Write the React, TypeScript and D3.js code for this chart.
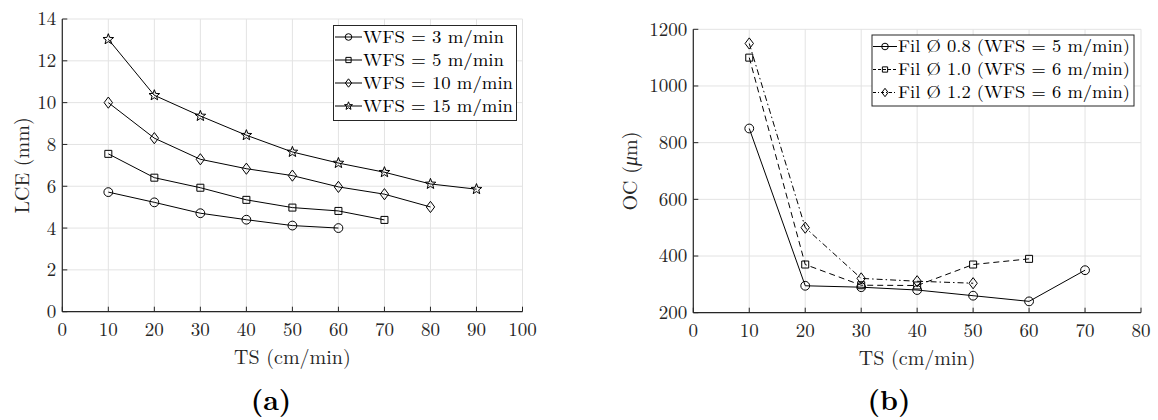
import React from 'react';
import * as d3 from 'd3';

// ---- Panel (a) data ----
const tsA3 = [10, 20, 30, 40, 50, 60];
const lceA3 = [5.72, 5.23, 4.71, 4.4, 4.12, 4.0];
const tsA5 = [10, 20, 30, 40, 50, 60, 70];
const lceA5 = [7.55, 6.41, 5.93, 5.35, 4.98, 4.82, 4.39];
const tsA10 = [10, 20, 30, 40, 50, 60, 70, 80];
const lceA10 = [10.0, 8.3, 7.29, 6.84, 6.51, 5.97, 5.62, 5.01];
const tsA15 = [10, 20, 30, 40, 50, 60, 70, 80, 90];
const lceA15 = [13.03, 10.35, 9.36, 8.44, 7.64, 7.11, 6.67, 6.11, 5.86];
const legendA = ['WFS = 3 m/min', 'WFS = 5 m/min', 'WFS = 10 m/min', 'WFS = 15 m/min'];
const xTicksA = [0, 10, 20, 30, 40, 50, 60, 70, 80, 90, 100];
const yTicksA = [0, 2, 4, 6, 8, 10, 12, 14];

// ---- Panel (b) data ----
const tsB08 = [10, 20, 30, 40, 50, 60, 70];
const ocB08 = [850, 295, 290, 280, 260, 240, 350];
const tsB10 = [10, 20, 30, 40, 50, 60];
const ocB10 = [1100, 370, 297, 296, 370, 390];
const tsB12 = [10, 20, 30, 40, 50];
const ocB12 = [1150, 500, 321, 311, 304];
const legendB = ['Fil Ø 0.8 (WFS = 5 m/min)', 'Fil Ø 1.0 (WFS = 6 m/min)', 'Fil Ø 1.2 (WFS = 6 m/min)'];
const xTicksB = [0, 10, 20, 30, 40, 50, 60, 70, 80];
const yTicksB = [200, 400, 600, 800, 1000, 1200];

const FONT = "'Latin Modern Roman', 'CMU Serif', 'Liberation Serif', serif";
const AX = '#262626';
const GRID = '#e3e3e3';

type Mk = 'circle' | 'square' | 'diamond' | 'star';

function markerPath(t: Mk, s: number): string {
  if (t === 'circle') {
    const r = 4.4 * s;
    return `M${r},0A${r},${r} 0 1,1 ${-r},0A${r},${r} 0 1,1 ${r},0Z`;
  }
  if (t === 'square') {
    const h = 3.5 * s;
    return `M${-h},${-h}H${h}V${h}H${-h}Z`;
  }
  if (t === 'diamond') {
    const w = 4.2 * s, h = 5.6 * s;
    return `M0,${-h}L${w},0L0,${h}L${-w},0Z`;
  }
  const R = 5.6 * s, r = R * 0.42;
  const pts: string[] = [];
  for (let i = 0; i < 10; i++) {
    const a = -Math.PI / 2 + (i * Math.PI) / 5;
    const rr = i % 2 === 0 ? R : r;
    pts.push(`${(rr * Math.cos(a)).toFixed(2)},${(rr * Math.sin(a)).toFixed(2)}`);
  }
  return 'M' + pts.join('L') + 'Z';
}

type Series = { xs: number[]; ys: number[]; mk: Mk; dash?: string };

const txt = (size: number, extra: React.CSSProperties = {}): React.CSSProperties => ({ fontFamily: FONT, fontSize: size, ...extra });

function Panel(props: {
  left: number; right: number; top: number; bottom: number;
  xDom: [number, number]; yDom: [number, number];
  xTicks: number[]; yTicks: number[];
  series: Series[]; xLabel: string; yLabel: React.ReactNode;
  yLabelX: number;
}) {
  const { left, right, top, bottom } = props;
  const x = d3.scaleLinear().domain(props.xDom).range([left, right]);
  const y = d3.scaleLinear().domain(props.yDom).range([bottom, top]);
  const line = d3.line<[number, number]>().x(d => x(d[0])).y(d => y(d[1]));
  return (
    <g>
      {props.xTicks.map(t => (
        <line key={'gx' + t} x1={x(t)} x2={x(t)} y1={top} y2={bottom} stroke={GRID} strokeWidth={1} />
      ))}
      {props.yTicks.map(t => (
        <line key={'gy' + t} x1={left} x2={right} y1={y(t)} y2={y(t)} stroke={GRID} strokeWidth={1} />
      ))}
      <line x1={left} x2={right} y1={bottom} y2={bottom} stroke={AX} strokeWidth={1.2} />
      <line x1={left} x2={left} y1={top} y2={bottom} stroke={AX} strokeWidth={1.2} />
      {props.xTicks.map(t => (
        <g key={'tx' + t}>
          <line x1={x(t)} x2={x(t)} y1={bottom} y2={bottom - 5} stroke={AX} strokeWidth={1} />
          <text x={x(t)} y={bottom + 24} textAnchor="middle" fill={AX} style={txt(19)}>{t}</text>
        </g>
      ))}
      {props.yTicks.map(t => (
        <g key={'ty' + t}>
          <line x1={left} x2={left + 5} y1={y(t)} y2={y(t)} stroke={AX} strokeWidth={1} />
          <text x={left - 6} y={y(t)} dy="0.34em" textAnchor="end" fill={AX} style={txt(19)}>{t}</text>
        </g>
      ))}
      {props.series.map((s, i) => {
        const pts = s.xs.map((v, j) => [v, s.ys[j]] as [number, number]);
        return (
          <g key={'s' + i}>
            <path d={line(pts) || ''} fill="none" stroke="#000" strokeWidth={1} strokeDasharray={s.dash} />
            {pts.map((p, j) => (
              <path key={j} d={markerPath(s.mk, 1)} transform={`translate(${x(p[0])},${y(p[1])})`} fill="none" stroke="#000" strokeWidth={1} />
            ))}
          </g>
        );
      })}
      <text x={(left + right) / 2} y={bottom + 52} textAnchor="middle" fill={AX} style={txt(20)}>{props.xLabel}</text>
      <text transform={`translate(${props.yLabelX},${(top + bottom) / 2}) rotate(-90)`} textAnchor="middle" fill={AX}
        style={txt(20)}>{props.yLabel}</text>
    </g>
  );
}

function Legend(props: { x: number; y: number; w: number; h: number; rows: number[]; labels: string[]; mks: Mk[]; dashes: (string | undefined)[]; lineX: [number, number]; textX: number; widths: number[]; size: number }) {
  return (
    <g>
      <rect x={props.x} y={props.y} width={props.w} height={props.h} fill="#fff" stroke={AX} strokeWidth={1} />
      {props.labels.map((lab, i) => {
        const ry = props.rows[i];
        const mx = (props.lineX[0] + props.lineX[1]) / 2;
        return (
          <g key={i}>
            <line x1={props.lineX[0]} x2={props.lineX[1]} y1={ry} y2={ry} stroke="#000" strokeWidth={1} strokeDasharray={props.dashes[i]} />
            <path d={markerPath(props.mks[i], 0.75)} transform={`translate(${mx},${ry})`} fill="none" stroke="#000" strokeWidth={1} />
            <text x={props.textX} y={ry} dy="0.34em" fill="#000" style={txt(props.size)}
              textLength={props.widths[i]} lengthAdjust="spacingAndGlyphs">{lab}</text>
          </g>
        );
      })}
    </g>
  );
}

export default function App() {
  const seriesA: Series[] = [
    { xs: tsA3, ys: lceA3, mk: 'circle' },
    { xs: tsA5, ys: lceA5, mk: 'square' },
    { xs: tsA10, ys: lceA10, mk: 'diamond' },
    { xs: tsA15, ys: lceA15, mk: 'star' },
  ];
  const seriesB: Series[] = [
    { xs: tsB08, ys: ocB08, mk: 'circle' },
    { xs: tsB10, ys: ocB10, mk: 'square', dash: '6,4' },
    { xs: tsB12, ys: ocB12, mk: 'diamond', dash: '6,3,1.5,3' },
  ];
  return (
    <svg width={1158} height={420} style={{ position: 'absolute', left: 0, top: 0, background: '#fff' }}>
      <rect width={1158} height={420} fill="#fff" />
      <Panel left={62.3} right={522.5} top={19} bottom={311.7} xDom={[0, 100]} yDom={[0, 14]}
        xTicks={xTicksA} yTicks={yTicksA} series={seriesA} xLabel="TS (cm/min)" yLabel="LCE (mm)"
        yLabelX={29} />
      <Panel left={693.3} right={1141} top={29.3} bottom={312.7} xDom={[0, 80]} yDom={[200, 1200]}
        xTicks={xTicksB} yTicks={yTicksB} series={seriesB} xLabel="TS (cm/min)"
        yLabel={<><tspan>OC (</tspan><tspan style={{ fontStyle: 'italic' }}>μ</tspan><tspan>m)</tspan></>}
        yLabelX={637} />
      <Legend x={333.5} y={25.5} w={183} h={95} rows={[37, 60, 83, 106]} labels={legendA}
        mks={['circle', 'square', 'diamond', 'star']} dashes={[undefined, undefined, undefined, undefined]}
        lineX={[335, 362]} textX={363} widths={[141, 141, 150, 150]} size={17.5} />
      <Legend x={872} y={35} w={262} h={71} rows={[46.5, 69.5, 92.5]} labels={legendB}
        mks={['circle', 'square', 'diamond']} dashes={[undefined, '3,2', '3,2,1,2']}
        lineX={[873, 897]} textX={898} widths={[232, 232, 232]} size={17} />
      <text x={271} y={410} textAnchor="middle" fill="#000" style={txt(28, { fontWeight: 'bold' })}>(a)</text>
      <text x={889} y={410} textAnchor="middle" fill="#000" style={txt(28, { fontWeight: 'bold' })}>(b)</text>
    </svg>
  );
}
